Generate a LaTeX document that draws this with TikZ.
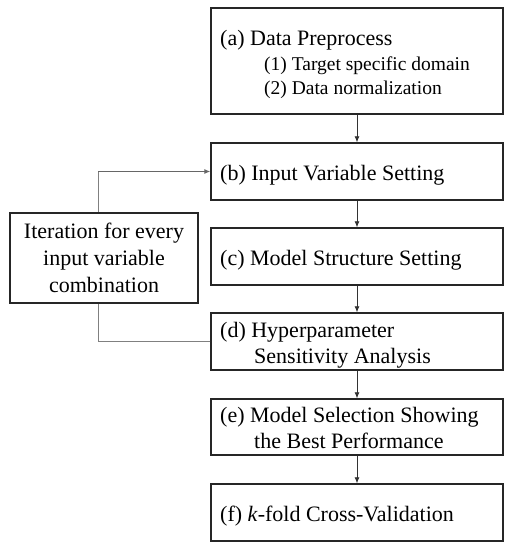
\documentclass[tikz,border=0pt]{standalone}
\usepackage{fontspec}
\setmainfont{Liberation Serif}
\usetikzlibrary{arrows.meta}
\begin{document}
\begin{tikzpicture}[x=1pt,y=-1pt,
  box/.style={draw=black!85,line width=1.4pt,fill=white,inner sep=0pt},
  txt/.style={anchor=base west,inner sep=0pt,font=\fontsize{22}{24}\selectfont},
  subtxt/.style={txt,font=\fontsize{19.5}{24}\selectfont},
  arr/.style={draw=black!80,line width=0.8pt,-{Latex[length=6pt,width=5pt]}},
  loopline/.style={draw=black!50,line width=1pt}]
\useasboundingbox (0,0) rectangle (511,550);
% main boxes
\node[box,minimum width=292pt,minimum height=106pt] (a) at (357,61) {};
\node[box,minimum width=292pt,minimum height=57pt] (b) at (357,171.5) {};
\node[box,minimum width=292pt,minimum height=57pt] (c) at (357,256.5) {};
\node[box,minimum width=292pt,minimum height=57pt] (d) at (357,341.5) {};
\node[box,minimum width=292pt,minimum height=56pt] (e) at (357,427) {};
\node[box,minimum width=292pt,minimum height=57pt] (f) at (357,512.5) {};
% loop
\coordinate (lb) at (98,341.5);
\coordinate (lt) at (98,171.5);
\draw[loopline] (d.west) -- (lb) -- (lt);
\draw[loopline,-{Latex[length=6pt,width=5pt]},draw=black!60] (lt) -- (b.west);
\node[box,minimum width=188pt,minimum height=90pt,align=center,
  font=\fontsize{22}{27}\selectfont] (it) at (104,258) {Iteration for every\\input variable\\combination};
% texts
\node[txt] (ta) at (220,45) {(a) Data Preprocess};
\node[subtxt] (ta1) at (264,70) {(1) Target specific\ domain};
\node[subtxt] (ta2) at (264,94) {(2) Data normalization};
\node[txt] (tb) at (220,180) {(b) Input Variable Setting};
\node[txt] (tc) at (220,265) {(c) Model Structure Setting};
\node[txt] (td) at (220,337) {(d) Hyperparameter};
\node[txt] (td2) at (254,363) {Sensitivity Analysis};
\node[txt] (te) at (220,422) {(e) Model Selection Showing};
\node[txt] (te2) at (254,448) {the Best Performance};
\node[txt] (tf) at (220,521) {(f) \textit{k}-fold Cross-Validation};
% arrows
\draw[arr] (a) -- (b);
\draw[arr] (b) -- (c);
\draw[arr] (c) -- (d);
\draw[arr] (d) -- (e);
\draw[arr] (e) -- (f);
\end{tikzpicture}
\end{document}
